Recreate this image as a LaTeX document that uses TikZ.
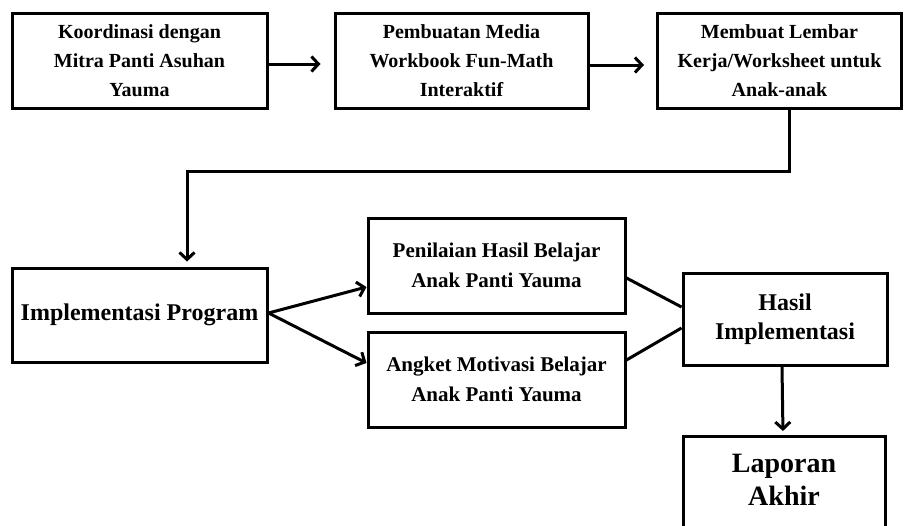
\documentclass[tikz,border=0pt]{standalone}
\usepackage{fontspec}
\setmainfont{Liberation Serif}[BoldFont={Liberation Serif Bold}]
\newfontfamily\tnrbold{Liberation Serif Bold}
\usetikzlibrary{arrows.meta}
\tikzset{
  box/.style={draw, line width=3pt, rectangle, align=center, inner sep=2pt},
  ftop/.style={font=\tnrbold\fontsize{20}{29}\selectfont},
  fmid/.style={font=\tnrbold\fontsize{21}{30}\selectfont},
  fbig/.style={font=\tnrbold\fontsize{24}{30}\selectfont},
  fhuge/.style={font=\tnrbold\fontsize{28}{33}\selectfont},
  arr/.style={line width=3pt, -{Straight Barb[length=7pt,width=15pt,line width=3pt]}},
  ln/.style={line width=3pt}
}
\begin{document}
\begin{tikzpicture}[x=1pt,y=-1pt]
\useasboundingbox (0,0) rectangle (904,525);
\clip (0,0) rectangle (904,525);
\node[box,ftop,minimum width=255pt,minimum height=95pt] (b1) at (139.5,60.5) {Koordinasi dengan\\Mitra Panti Asuhan\\Yauma};
\node[box,ftop,minimum width=253pt,minimum height=95pt] (b2) at (461.5,60.5) {Pembuatan Media\\Workbook Fun-Math\\Interaktif};
\node[box,ftop,minimum width=244pt,minimum height=95pt] (b3) at (779.5,60.5) {Membuat Lembar\\Kerja/Worksheet untuk\\Anak-anak};
\node[box,fbig,minimum width=255pt,minimum height=94pt] (b4) at (139.5,315) {\raisebox{4pt}{Implementasi Program}};
\node[box,fmid,minimum width=257pt,minimum height=95pt] (b5) at (496.5,265.5) {Penilaian Hasil Belajar\\Anak Panti Yauma};
\node[box,fmid,minimum width=257pt,minimum height=95pt] (b6) at (496.5,379.5) {Angket Motivasi Belajar\\Anak Panti Yauma};
\node[box,fbig,minimum width=204pt,minimum height=92pt] (b7) at (785,319) {\raisebox{-3pt}{\begin{tabular}{@{}c@{}}Hasil\\[-1pt]Implementasi\end{tabular}}};
\node[box,fhuge,minimum width=202pt,anchor=north,inner ysep=18pt,text depth=70pt] (b8) at (784,435) {Laporan\\Akhir};
\draw[arr,shorten >=13pt] ([yshift=-3.5pt]b1.east) -- ([yshift=-3.5pt]b2.west);
\draw[arr,shorten >=12pt] ([yshift=-4.5pt]b2.east) -- ([yshift=-4.5pt]b3.west);
\coordinate (k1) at (789,171);
\coordinate (k2) at (187,171);
\draw[arr,shorten >=5pt] (b3.south -| k1) -- (k1) -- (k2) -- (k2 |- b4.north);
\draw[arr] ([yshift=2pt]b4.east) -- ([yshift=-21.5pt]b5.west);
\draw[arr] ([yshift=2pt]b4.east) -- ([yshift=16.5pt]b6.west);
\draw[ln] ([yshift=-12.5pt]b5.east) -- ([yshift=12pt]b7.west);
\draw[ln] ([yshift=19.5pt]b6.east) -- ([yshift=-9pt]b7.west);
\draw[arr,shorten >=4pt] ([xshift=-3pt]b7.south) -- ([xshift=-1pt]b8.north);
\end{tikzpicture}
\end{document}
